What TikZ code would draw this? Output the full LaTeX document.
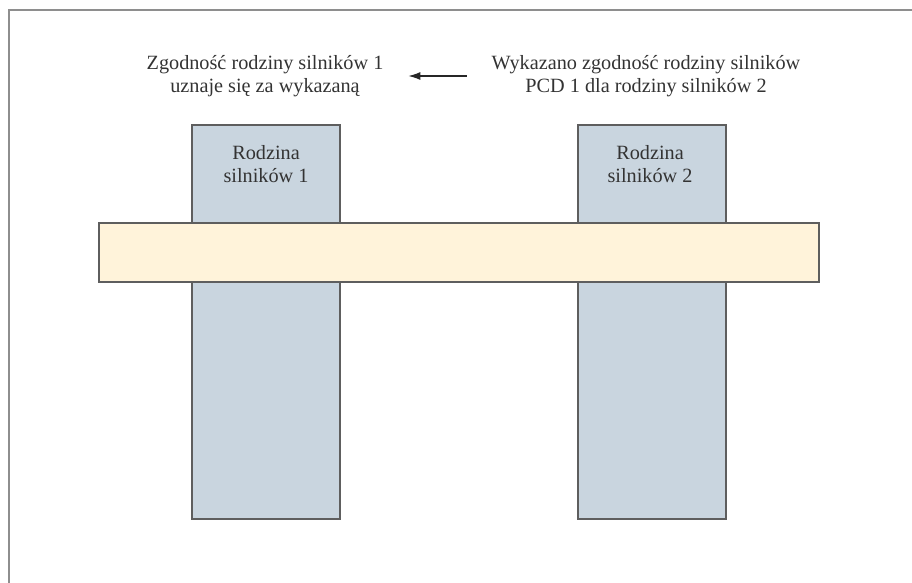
\documentclass[tikz,border=0pt]{standalone}
\usepackage{fontspec}
\setmainfont{Liberation Serif}
\usepackage{xcolor}
\usepackage{tikz}
\usetikzlibrary{positioning,arrows.meta}

\definecolor{famblue}{HTML}{C9D5DF}
\definecolor{bandcream}{HTML}{FFF3DA}
\definecolor{edgegray}{HTML}{5E5E5E}
\definecolor{framegray}{HTML}{8E8E8E}

\begin{document}
\begin{tikzpicture}[
		famcol/.style={draw=edgegray, fill=famblue, line width=1.4pt, minimum width=3.7cm, minimum height=9.85cm},
		mytext/.style={align=center, font=\fontsize{14.4}{16.5}\selectfont, text=black!80}
	]
	\useasboundingbox (0,0) rectangle (22.8,14.575);
	\draw[framegray, line width=1.4pt] (0.225,-0.5) -- (0.225,14.325) -- (23.5,14.325);

	\node[famcol] (fam1) at (6.65,6.525) {};
	\node[famcol] (fam2) at (16.29,6.525) {};
	\node[draw=edgegray, fill=bandcream, line width=1.4pt, minimum width=18cm, minimum height=1.475cm] (band) at (11.475,8.2625) {};

	\node[mytext] (fam1txt) at (6.65,10.475) {Rodzina \\ silników 1};
	\node[mytext] (fam2txt) at (16.25,10.475) {Rodzina \\ silników 2};

	\node[mytext] (zgod) at (6.625,12.675) {Zgodność rodziny silników 1 \\ uznaje się za wykazaną};
	\node[mytext] (pcd) at (16.15,12.675) {Wykazano zgodność rodziny silników \\ PCD 1 dla rodziny silników 2};

	\draw[-{Latex[length=3mm,width=2mm]}, line width=1pt, black!85, shorten <=0.5cm, shorten >=0.5cm] (pcd) -- (zgod);
\end{tikzpicture}
\end{document}
